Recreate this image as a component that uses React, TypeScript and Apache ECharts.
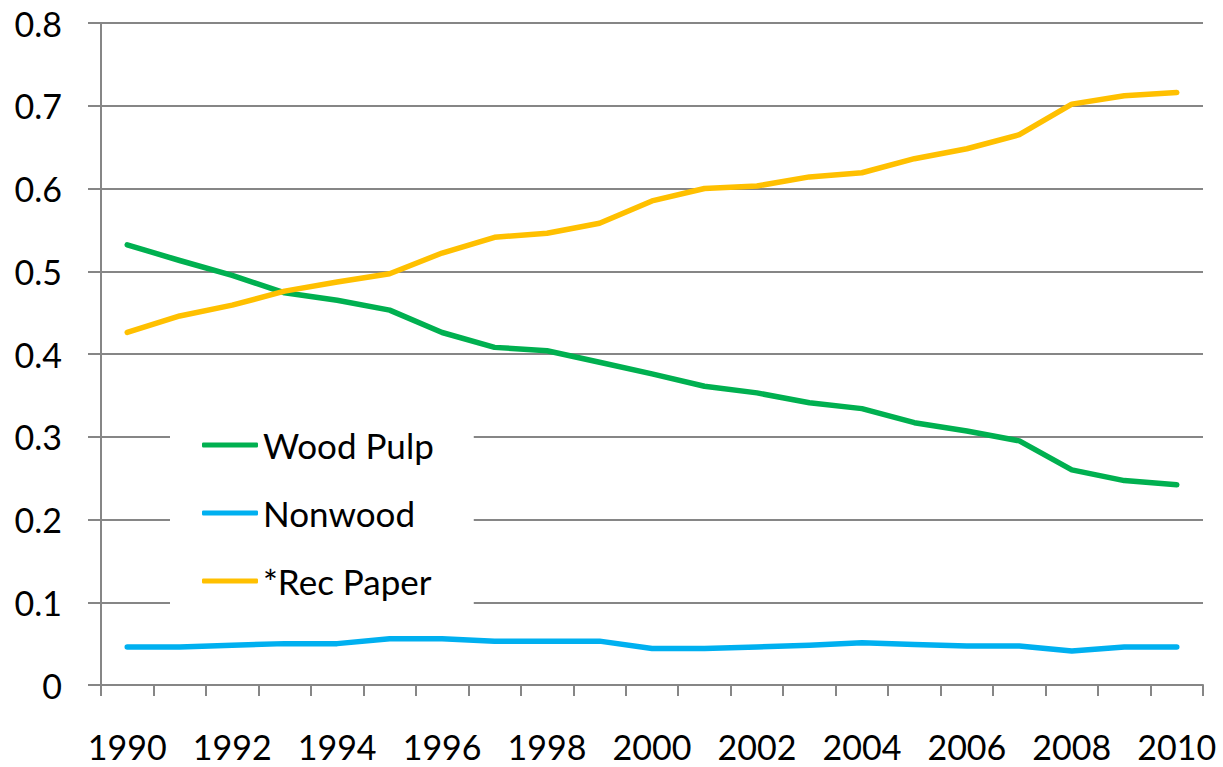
import React, { useEffect, useRef } from "react";
import * as echarts from "echarts";

const years = [
  "1990", "1991", "1992", "1993", "1994", "1995", "1996", "1997", "1998", "1999", "2000",
  "2001", "2002", "2003", "2004", "2005", "2006", "2007", "2008", "2009", "2010",
];
const woodPulp = [
  0.532, 0.513, 0.495, 0.474, 0.465, 0.453, 0.426, 0.408, 0.404, 0.39, 0.376,
  0.361, 0.353, 0.341, 0.334, 0.317, 0.307, 0.295, 0.26, 0.247, 0.242,
];
const nonwood = [
  0.046, 0.046, 0.048, 0.05, 0.05, 0.056, 0.056, 0.053, 0.053, 0.053, 0.044,
  0.044, 0.046, 0.048, 0.051, 0.049, 0.047, 0.047, 0.041, 0.046, 0.046,
];
const recPaper = [
  0.426, 0.446, 0.459, 0.476, 0.487, 0.497, 0.522, 0.541, 0.546, 0.558, 0.585,
  0.6, 0.603, 0.614, 0.619, 0.636, 0.648, 0.665, 0.702, 0.712, 0.716,
];
const seriesNames = ["Wood Pulp", "Nonwood", "*Rec Paper"];
const colors = ["#00B050", "#00B0F0", "#FFC000"];

const FONT = "Lato";
const GRAY = "#868686";

export default function App() {
  const ref = useRef<HTMLDivElement>(null);
  useEffect(() => {
    const chart = echarts.init(ref.current!, null, { renderer: "svg" });
    const data = [woodPulp, nonwood, recPaper];
    chart.setOption({
      animation: false,
      backgroundColor: "#ffffff",
      grid: { left: 101, right: 20, top: 23, bottom: 82, containLabel: false },
      xAxis: {
        type: "category",
        data: years,
        boundaryGap: true,
        axisLine: { show: true, lineStyle: { color: GRAY, width: 2 } },
        axisTick: { show: true, interval: 0, length: 11, lineStyle: { color: GRAY, width: 2 } },
        axisLabel: { interval: 1, margin: 44, color: "#000", fontFamily: FONT, fontSize: 34 },
        splitLine: { show: false },
      },
      yAxis: {
        type: "value",
        min: 0,
        max: 0.8,
        interval: 0.1,
        axisLine: { show: true, lineStyle: { color: GRAY, width: 2 } },
        axisTick: { show: true, length: 13, lineStyle: { color: GRAY, width: 2 } },
        axisLabel: { margin: 39, color: "#000", fontFamily: FONT, fontSize: 34 },
        splitLine: { show: true, lineStyle: { color: GRAY, width: 2 } },
      },
      legend: {
        orient: "vertical",
        left: 170,
        top: 400,
        padding: [27, 40, 21, 32],
        backgroundColor: "#ffffff",
        icon: "roundRect",
        itemWidth: 56,
        itemHeight: 5,
        itemGap: 32,
        data: seriesNames,
        textStyle: { color: "#000", fontFamily: FONT, fontSize: 35, lineHeight: 36 },
      },
      series: seriesNames.map((name, i) => ({
        name,
        type: "line",
        data: data[i],
        symbol: "none",
        smooth: false,
        z: i === 1 ? 3 : 2,
        lineStyle: { color: colors[i], width: 5.5, cap: "round", join: "round" },
        itemStyle: { color: colors[i] },
      })),
    });
    return () => chart.dispose();
  }, []);
  return (
    <div
      ref={ref}
      style={{ position: "fixed", left: 0, top: 0, width: 1223, height: 767, background: "#fff" }}
    />
  );
}
